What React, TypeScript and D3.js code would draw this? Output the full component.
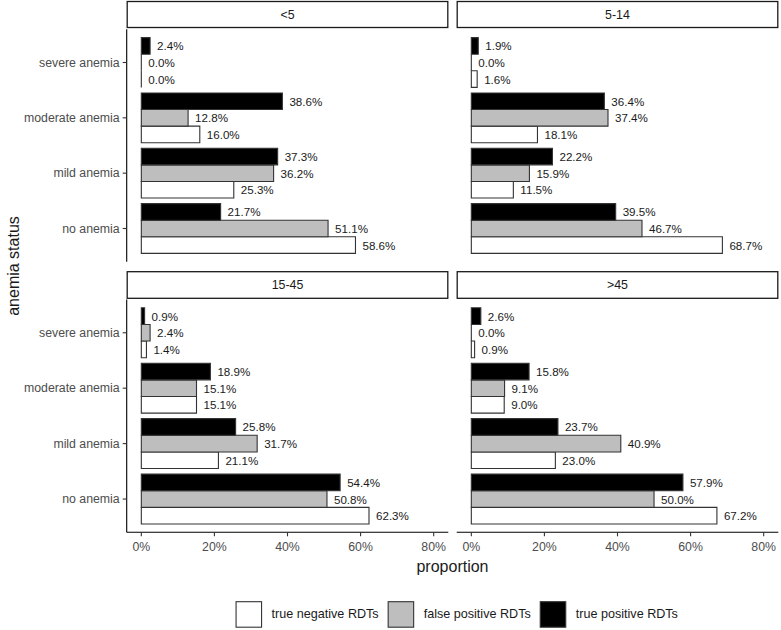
import React from "react";
import * as d3 from "d3";

const ageGroups = ["<5", "5-14", "15-45", ">45"];
const anemiaLevels = ["no anemia", "mild anemia", "moderate anemia", "severe anemia"];
const seriesNames = ["true negative RDTs", "false positive RDTs", "true positive RDTs"];
const seriesFills = ["#FFFFFF", "#BEBEBE", "#000000"];

// values in percent, order of anemiaLevels: no, mild, moderate, severe
const trueNegative = [
  [58.6, 25.3, 16.0, 0.0],
  [68.7, 11.5, 18.1, 1.6],
  [62.3, 21.1, 15.1, 1.4],
  [67.2, 23.0, 9.0, 0.9],
];
const falsePositive = [
  [51.1, 36.2, 12.8, 0.0],
  [46.7, 15.9, 37.4, 0.0],
  [50.8, 31.7, 15.1, 2.4],
  [50.0, 40.9, 9.1, 0.0],
];
const truePositive = [
  [21.7, 37.3, 38.6, 2.4],
  [39.5, 22.2, 36.4, 1.9],
  [54.4, 25.8, 18.9, 0.9],
  [57.9, 23.7, 15.8, 2.6],
];
const xTicks = [0, 0.2, 0.4, 0.6, 0.8];

const W = 781;
const H = 630;
const FONT = "'Liberation Sans', Arial, Helvetica, sans-serif";

const cols = [
  [126.7, 448.3],
  [456.7, 778.3],
];
const rows = [
  { stripTop: 1.5, stripBottom: 27.5, top: 29.3, bottom: 261.7 },
  { stripTop: 271.7, stripBottom: 298.3, top: 299.5, bottom: 532.3 },
];

function measure(text: string, size: number) {
  if (typeof document === "undefined") return text.length * size * 0.5;
  const c = document.createElement("canvas").getContext("2d");
  if (!c) return text.length * size * 0.5;
  c.font = `${size}px ${FONT}`;
  return c.measureText(text).width;
}

function Panel({ idx }: { idx: number }) {
  const col = idx % 2;
  const row = Math.floor(idx / 2);
  const [x0, x1] = cols[col];
  const r = rows[row];
  const x = d3.scaleLinear().domain([-0.04, 0.84]).range([x0, x1]);
  const y = d3.scaleLinear().domain([0.4, 4.6]).range([r.bottom, r.top]);
  const series = [trueNegative[idx], falsePositive[idx], truePositive[idx]];
  const barW = 0.3;
  const marks: JSX.Element[] = [];
  anemiaLevels.forEach((lvl, i) => {
    const pos = i + 1;
    series.forEach((vals, s) => {
      const v = vals[i] / 100;
      // s=0 bottom, s=2 top
      const lo = pos - 0.45 + s * barW;
      const hi = lo + barW;
      const ya = y(hi);
      const yb = y(lo);
      const xa = x(0);
      const xb = x(v);
      marks.push(
        <path
          key={`b-${i}-${s}`}
          d={`M${xa},${ya}H${xb}V${yb}H${xa}Z`}
          fill={seriesFills[s]}
          stroke="#333333"
          strokeWidth={1.1}
        />
      );
      marks.push(
        <text
          key={`t-${i}-${s}`}
          x={xb + 7}
          y={(ya + yb) / 2}
          dominantBaseline="central"
          fontSize={11.6}
          fill="#1A1A1A"
          fontFamily={FONT}
        >
          {(vals[i]).toFixed(1) + "%"}
        </text>
      );
    });
  });
  return (
    <g>
      {/* strip */}
      <rect
        x={x0 + 0.5}
        y={r.stripTop}
        width={x1 - x0 - 1}
        height={r.stripBottom - r.stripTop}
        fill="#FFFFFF"
        stroke="#1A1A1A"
        strokeWidth={1.3}
      />
      <text
        x={(x0 + x1) / 2}
        y={(r.stripTop + r.stripBottom) / 2}
        textAnchor="middle"
        dominantBaseline="central"
        fontSize={12.4}
        fill="#1A1A1A"
        fontFamily={FONT}
      >
        {ageGroups[idx]}
      </text>
      {marks}
      {col === 0 && (
        <g>
          <line x1={x0} x2={x0} y1={r.top} y2={r.bottom} stroke="#000" strokeWidth={1.1} />
          {anemiaLevels.map((lvl, i) => (
            <g key={lvl}>
              <line x1={x0 - 4} x2={x0} y1={y(i + 1)} y2={y(i + 1)} stroke="#333" strokeWidth={1.1} />
              <text
                x={x0 - 7}
                y={y(i + 1)}
                textAnchor="end"
                dominantBaseline="central"
                fontSize={12.3}
                fill="#4D4D4D"
                fontFamily={FONT}
              >
                {lvl}
              </text>
            </g>
          ))}
        </g>
      )}
      {row === 1 && (
        <g>
          <line x1={x0} x2={x1} y1={r.bottom} y2={r.bottom} stroke="#000" strokeWidth={1.1} />
          {xTicks.map((t) => (
            <g key={t}>
              <line x1={x(t)} x2={x(t)} y1={r.bottom} y2={r.bottom + 4} stroke="#333" strokeWidth={1.1} />
              <text
                x={x(t)}
                y={r.bottom + 15}
                textAnchor="middle"
                dominantBaseline="central"
                fontSize={12.3}
                fill="#4D4D4D"
                fontFamily={FONT}
              >
                {d3.format(".0%")(t)}
              </text>
            </g>
          ))}
        </g>
      )}
    </g>
  );
}

function Legend() {
  const keySize = 25.5;
  const gapText = 10;
  const gapItem = 9.5;
  const fs = 12.6;
  const widths = seriesNames.map((n) => measure(n, fs));
  const total = widths.reduce((a, w) => a + keySize + gapText + w, 0) + gapItem * (seriesNames.length - 1);
  const cx = 457;
  let cur = cx - total / 2;
  const top = 601.7;
  const items = seriesNames.map((n, i) => {
    const kx = cur;
    cur += keySize + gapText + widths[i] + gapItem;
    return (
      <g key={n}>
        <rect x={kx} y={top} width={keySize} height={keySize} fill={seriesFills[i]} stroke="#333" strokeWidth={1.1} />
        <text
          x={kx + keySize + gapText}
          y={top + keySize / 2}
          dominantBaseline="central"
          fontSize={fs}
          fill="#1A1A1A"
          fontFamily={FONT}
        >
          {n}
        </text>
      </g>
    );
  });
  return <g>{items}</g>;
}

export default function App() {
  return (
    <svg width={W} height={H} style={{ display: "block", position: "absolute", left: 0, top: 0, background: "#fff" }}>
      <rect width={W} height={H} fill="#fff" />
      {ageGroups.map((g, i) => (
        <Panel key={g} idx={i} />
      ))}
      <text
        x={452.5}
        y={566}
        textAnchor="middle"
        dominantBaseline="central"
        fontSize={16}
        fill="#1A1A1A"
        fontFamily={FONT}
      >
        proportion
      </text>
      <text
        transform={`translate(13,266) rotate(-90)`}
        textAnchor="middle"
        dominantBaseline="central"
        fontSize={16}
        fill="#1A1A1A"
        fontFamily={FONT}
      >
        anemia status
      </text>
      <Legend />
    </svg>
  );
}
